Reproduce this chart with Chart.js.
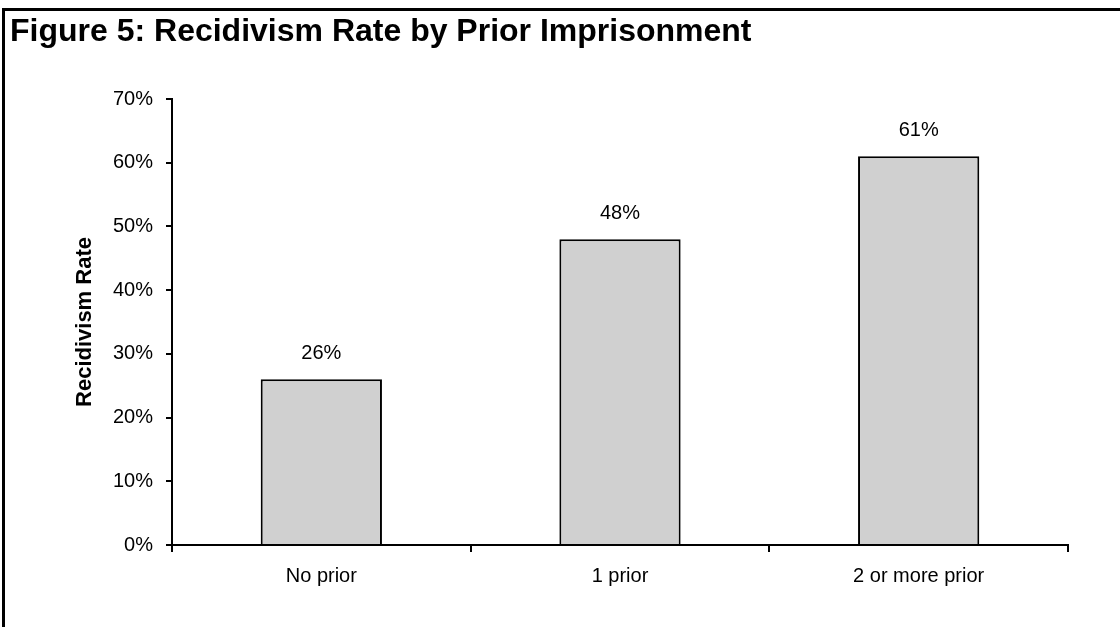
<!DOCTYPE html>
<html>
<head>
<meta charset="utf-8">
<script src="https://cdn.jsdelivr.net/npm/chart.js@4/dist/chart.umd.min.js"></script>
<style>
  html, body { margin: 0; padding: 0; background: #fff; }
  #wrap { position: relative; width: 1120px; height: 627px; overflow: hidden; }
  canvas { display: block; }
</style>
</head>
<body>
<div id="wrap"><canvas id="chart" width="1120" height="627"></canvas></div>
<script>
// Recidivism rate by number of prior imprisonments
const chartTitle = 'Figure 5: Recidivism Rate by Prior Imprisonment';
const categories = ['No prior', '1 prior', '2 or more prior'];
const rates = [26, 48, 61];
const yTicks = [0, 10, 20, 30, 40, 50, 60, 70];
const yAxisTitle = 'Recidivism Rate';

const FONT = '"Liberation Sans", Arial, Helvetica, sans-serif';

// Frame and heading drawn behind the chart
const framePlugin = {
  id: 'frame',
  beforeDraw(chart) {
    const ctx = chart.ctx;
    ctx.save();
    ctx.fillStyle = '#ffffff';
    ctx.fillRect(0, 0, chart.width, chart.height);
    ctx.fillStyle = '#000000';
    ctx.fillRect(2, 8, 3, chart.height - 8);
    ctx.fillRect(2, 8, chart.width - 2, 3);
    ctx.font = 'bold 32px ' + FONT;
    ctx.textAlign = 'left';
    ctx.textBaseline = 'alphabetic';
    ctx.fillText(chartTitle, 10, 41);
    ctx.restore();
  }
};

// Percentage labels above each bar
const valueLabels = {
  id: 'valueLabels',
  afterDatasetsDraw(chart) {
    const ctx = chart.ctx;
    ctx.save();
    ctx.font = '20px ' + FONT;
    ctx.fillStyle = '#000000';
    ctx.textAlign = 'center';
    ctx.textBaseline = 'alphabetic';
    chart.getDatasetMeta(0).data.forEach((bar, i) => {
      ctx.fillText(rates[i] + '%', bar.x, bar.y - 20);
    });
    ctx.restore();
  }
};

new Chart(document.getElementById('chart'), {
  type: 'bar',
  data: {
    labels: categories,
    datasets: [{
      data: rates,
      backgroundColor: '#d0d0d0',
      borderColor: '#000000',
      borderWidth: 2,
      borderSkipped: 'start',
      categoryPercentage: 1.0,
      barPercentage: 0.406
    }]
  },
  options: {
    responsive: false,
    animation: false,
    devicePixelRatio: 1,
    layout: { padding: { top: 99, right: 52, bottom: 0, left: 0 } },
    plugins: {
      legend: { display: false },
      tooltip: { enabled: false },
      title: { display: false }
    },
    scales: {
      x: {
        afterFit(scale) { scale.height = 82; },
        grid: {
          display: true,
          drawOnChartArea: false,
          drawTicks: true,
          tickLength: 7,
          color: '#000000',
          lineWidth: 2,
          offset: true
        },
        border: { display: true, color: '#000000', width: 2 },
        ticks: {
          color: '#000000',
          font: { family: FONT, size: 20 },
          padding: 12,
          maxRotation: 0
        }
      },
      y: {
        min: yTicks[0],
        max: yTicks[yTicks.length - 1],
        afterFit(scale) { scale.width = 172; },
        afterBuildTicks(scale) { scale.ticks = yTicks.map(v => ({ value: v })); },
        grid: {
          display: true,
          drawOnChartArea: false,
          drawTicks: true,
          tickLength: 6,
          color: '#000000',
          lineWidth: 2
        },
        border: { display: true, color: '#000000', width: 2 },
        ticks: {
          color: '#000000',
          font: { family: FONT, size: 20 },
          padding: 13,
          callback: v => v + '%'
        },
        title: {
          display: true,
          text: yAxisTitle,
          color: '#000000',
          font: { family: FONT, size: 22, weight: 'bold' },
          padding: { top: 72, bottom: 0 }
        }
      }
    }
  },
  plugins: [framePlugin, valueLabels]
});
</script>
</body>
</html>
